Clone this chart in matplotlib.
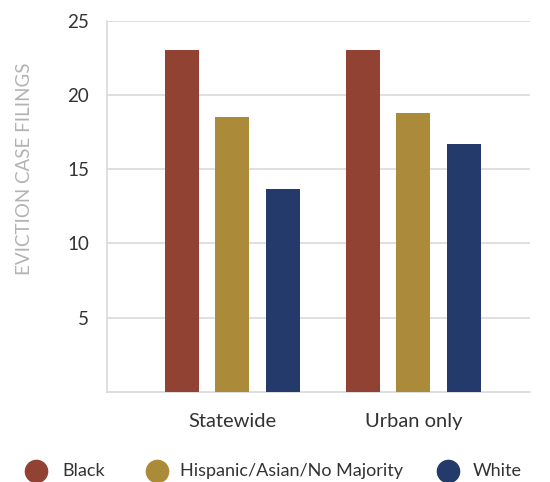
import numpy as np
import matplotlib
matplotlib.use("Agg")
import matplotlib.pyplot as plt
from matplotlib.lines import Line2D

plt.rcParams["font.family"] = ["Lato", "DejaVu Sans"]

# Eviction case filings by neighbourhood majority
CATEGORIES = ["Statewide", "Urban only"]
GROUPS = ["Black", "Hispanic/Asian/No Majority", "White"]
BLACK = [23.0, 23.0]
HISPANIC = [18.5, 18.8]
WHITE = [13.7, 16.7]
Y_TICKS = [5, 10, 15, 20, 25]

COLORS = ["#924232", "#AB8A3A", "#233A6A"]
GRID = "#d9d9d9"
TEXT = "#333333"

W, H = 550, 482
fig = plt.figure(figsize=(W / 100, H / 100), dpi=100)
ax = fig.add_axes([107 / W, 1 - 392 / H, 423 / W, 371.3 / H])

x = np.arange(len(CATEGORIES))
step = 0.279
width = 0.188
for i, (vals, color) in enumerate(zip([BLACK, HISPANIC, WHITE], COLORS)):
    ax.bar(x + (i - 1) * step, vals, width=width, color=color, zorder=3)

ax.set_xlim(-0.693, 1.644)
ax.set_ylim(0, 25)
ax.set_yticks(Y_TICKS)
ax.set_xticks(x)
ax.set_xticklabels(CATEGORIES)
ax.grid(axis="y", color=GRID, lw=1.2, zorder=0)
ax.tick_params(axis="both", length=0, colors=TEXT)
ax.tick_params(axis="x", pad=15, labelsize=14.5)
ax.tick_params(axis="y", pad=13, labelsize=13.5)

for side in ["top", "right"]:
    ax.spines[side].set_visible(False)
for side in ["left", "bottom"]:
    ax.spines[side].set_color(GRID)
    ax.spines[side].set_linewidth(1.2)

ax.set_ylabel("EVICTION CASE FILINGS", fontsize=13.5, color="#b3b3b3")
ax.yaxis.set_label_coords(-0.175, 0.60)

# legend row drawn by hand along the bottom
marker_x = [36, 157, 448]
text_x = [62, 180, 473]
leg_y = 1 - 471 / H
for mx, tx, label, color in zip(marker_x, text_x, GROUPS, COLORS):
    fig.add_artist(Line2D([mx / W], [leg_y], transform=fig.transFigure,
                          marker="o", ls="none", markersize=16,
                          markerfacecolor=color, markeredgecolor=color))
    fig.text(tx / W, leg_y, label, fontsize=13, color=TEXT,
             ha="left", va="center")

fig.savefig("out.png", dpi=100)
